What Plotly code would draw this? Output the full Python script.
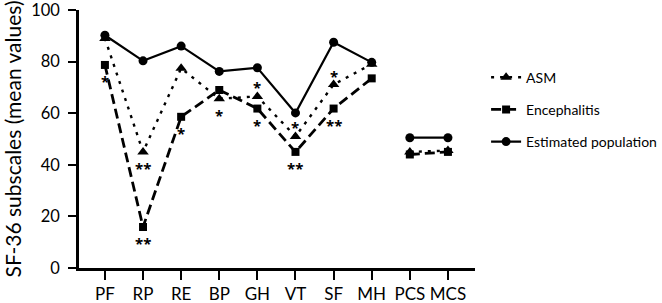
import plotly.graph_objects as go

categories = ["PF", "RP", "RE", "BP", "GH", "VT", "SF", "MH", "PCS", "MCS"]
subscales = categories[:8]
summary = categories[8:]

asm_sub = [89, 45, 77.4, 65.6, 66.5, 51, 71.1, 79]
enc_sub = [78.7, 15.9, 58.6, 69.0, 61.8, 45.0, 61.8, 73.5]
pop_sub = [90.2, 80.3, 86.0, 76.2, 77.6, 60.1, 87.5, 79.7]

asm_sum = [45, 45.5]
enc_sum = [44, 45]
pop_sum = [50.5, 50.5]

y_ticks = [0, 20, 40, 60, 80, 100]

# significance marks: (category, series, text, side)
sig_marks = [
    ("PF", "enc", "*", "below"),
    ("RP", "asm", "**", "below"),
    ("RP", "enc", "**", "below"),
    ("RE", "enc", "*", "below"),
    ("BP", "asm", "*", "below"),
    ("GH", "asm", "*", "above"),
    ("GH", "enc", "*", "below"),
    ("VT", "asm", "*", "above"),
    ("VT", "enc", "**", "below"),
    ("SF", "asm", "*", "above"),
    ("SF", "enc", "**", "below"),
]

FONT = "Lato"
series = {
    "asm": dict(name="ASM", sub=asm_sub, sm=asm_sum, symbol="triangle-up", size=10, dash="3px,6px", width=2.4),
    "enc": dict(name="Encephalitis", sub=enc_sub, sm=enc_sum, symbol="square", size=8, dash="10px,5px", width=2.8),
    "pop": dict(name="Estimated population", sub=pop_sub, sm=pop_sum, symbol="circle", size=9, dash="solid", width=2.2),
}

fig = go.Figure()
for key, s in series.items():
    fig.add_trace(go.Scatter(
        x=subscales, y=s["sub"], name=s["name"], mode="lines+markers",
        line=dict(color="black", width=s["width"], dash=s["dash"]),
        marker=dict(symbol=s["symbol"], size=s["size"], color="black"),
        legendgroup=key,
    ))
for key, s in series.items():
    fig.add_trace(go.Scatter(
        x=summary, y=s["sm"], name=s["name"], mode="lines+markers",
        line=dict(color="black", width=s["width"], dash=s["dash"]),
        marker=dict(symbol=s["symbol"], size=s["size"], color="black"),
        legendgroup=key, showlegend=False,
    ))

for cat, key, txt, side in sig_marks:
    idx = subscales.index(cat)
    val = series[key]["sub"][idx]
    fig.add_annotation(
        x=cat, y=val, text="<b>" + txt + "</b>", showarrow=False,
        font=dict(family="Noto Sans", size=15, color="black"),
        yshift=(-16 if side == "below" else 9),
    )

fig.update_layout(
    width=662, height=303,
    margin=dict(l=79, r=187, t=10, b=35, autoexpand=False),
    paper_bgcolor="white", plot_bgcolor="white",
    font=dict(family=FONT, color="black"),
    showlegend=True,
    legend=dict(
        x=1.028, y=0.80, xanchor="left", yanchor="top",
        font=dict(family=FONT, size=14, color="black"),
        tracegroupgap=11, bgcolor="rgba(0,0,0,0)",
    ),
)
fig.update_xaxes(
    type="category", categoryorder="array", categoryarray=categories,
    range=[-0.68, 9.71],
    showline=True, linecolor="black", linewidth=2.5,
    ticks="outside", ticklen=9, tickwidth=2, tickcolor="black",
    tickfont=dict(family=FONT, size=17, color="black"),
    showgrid=False, zeroline=False, automargin=False,
)
fig.update_yaxes(
    range=[0, 100], tickmode="array", tickvals=y_ticks,
    showline=True, linecolor="black", linewidth=2.5,
    ticks="outside", ticklen=8, tickwidth=2, tickcolor="black",
    tickfont=dict(family=FONT, size=16.5, color="black"),
    ticklabelstandoff=5, ticklabeloverflow="allow",
    showgrid=False, zeroline=False, automargin=False,
    title=dict(text="SF-36 subscales (mean values)", font=dict(family=FONT, size=21, color="black"), standoff=8),
)

fig.write_html("out.html", post_script="document.body.style.margin='0';",
               config={"displayModeBar": False})
